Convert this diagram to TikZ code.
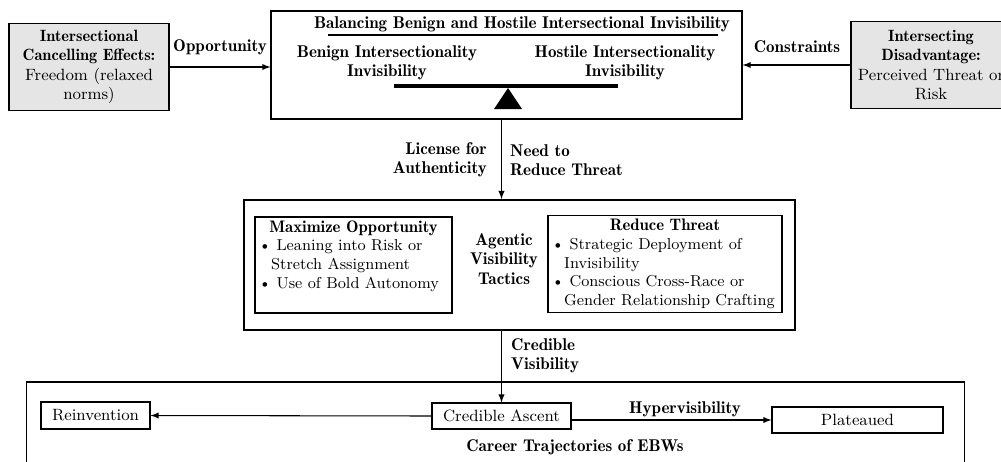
\documentclass[tikz,border=0pt]{standalone}
\usepackage{amsmath, amssymb}
\usepackage{xcolor}
\usepackage{tikz}

\newcommand{\demi}[1]{{\fontseries{b}\selectfont #1}}

\begin{document}
\begin{tikzpicture}[x=0.02cm, y=-0.02cm,
	font=\fontsize{9.3}{11}\selectfont,
	box/.style={draw, inner sep=0pt},
	greybox/.style={draw, semithick, fill=black!10, align=center, minimum width=3.2cm, minimum height=1.74cm},
	inbox/.style={draw, semithick, inner sep=2pt, font=\fontsize{9}{10.6}\selectfont},
	lbl/.style={font=\fontsize{9.7}{11}\fontseries{b}\selectfont},
	arr/.style={-latex, semithick}]

	\useasboundingbox (0,0) rectangle (1001,461);
	\clip (0,0) rectangle (1001,461);

	% Czynniki zewnętrzne
	\node[greybox] (cancel) at (89,67) {\demi{Intersectional}\\\demi{Cancelling Effects:}\\Freedom (relaxed\\norms)};
	\node[greybox] (disadv) at (931,65) {\demi{Intersecting}\\\demi{Disadvantage:}\\Perceived Threat or\\Risk};

	% Waga
	\node[box, line width=0.7pt, minimum width=9.42cm, minimum height=2.16cm] (balance) at (506.5,65) {};
	\node[lbl] (title) at (522,24) {Balancing Benign and Hostile Intersectional Invisibility};
	\draw[semithick] (328,35) -- (718,35);
	\node[lbl, align=center] (benign) at (387,63) {Benign Intersectionality\\Invisibility};
	\node[lbl, align=center] (hostile) at (625,63) {Hostile Intersectionality\\Invisibility};
	\draw[line width=2.2pt] (394,86) -- (618,86);
	\fill (508,88) -- (494,109) -- (522,109) -- cycle;

	% Strzałki do wagi
	\node[lbl] (opp) at (220,47) {Opportunity};
	\node[lbl] (constr) at (797,47) {Constraints};
	\draw[arr] (cancel) -- (cancel -| balance.west);
	\draw[arr] (disadv) -- (disadv -| balance.east);

	% Taktyki
	\node[box, line width=1.1pt, minimum width=11.02cm, minimum height=2.6cm] (tactics) at (519.5,265) {};
	\node[inbox] (maxopp) at (353.5,265) {\parbox[c][1.78cm][t]{3.8cm}{\centering\demi{\fontsize{9.5}{10.6}\selectfont Maximize Opportunity}\par\raggedright
		\textbullet~Leaning into Risk or\\\hspace*{0.8em}Stretch Assignment\\
		\textbullet~Use of Bold Autonomy}};
	\node[lbl, align=center] (agentic) at (504,259) {Agentic\\Visibility\\Tactics};
	\node[inbox] (reduce) at (665,264) {\parbox{4.54cm}{\centering\demi{\fontsize{9.5}{10.6}\selectfont Reduce Threat}\par\raggedright
		\textbullet~Strategic Deployment of\\\hspace*{0.8em}Invisibility\\
		\textbullet~Conscious Cross-Race or\\\hspace*{0.8em}Gender Relationship Crafting}};

	\node[lbl, align=right, anchor=east] (license) at (493,160) {License for\\Authenticity};
	\node[lbl, align=left, anchor=west] (need) at (504,160) {Need to\\Reduce Threat};

	% Ścieżki kariery
	\node[box, semithick, minimum width=18.78cm, minimum height=1.96cm] (careers) at (495.5,431) {};
	\node[box, semithick, minimum width=2.18cm, minimum height=0.54cm] (reinv) at (95.5,415.5) {Reinvention};
	\node[box, semithick, minimum width=2.78cm, minimum height=0.52cm] (ascent) at (501.5,416) {Credible Ascent};
	\node[box, semithick, minimum width=3.42cm, minimum height=0.52cm] (plateau) at (857.5,420) {Plateaued};
	\node[lbl] (career) at (575,447) {Career Trajectories of EBWs};
	\node[lbl] (hyper) at (685,409) {Hypervisibility};
	\node[lbl, align=left, anchor=west] (credvis) at (505,356) {Credible\\Visibility};

	% Strzałki pionowe i poziome
	\draw[arr] (balance.south -| ascent.north) -- (tactics.north -| ascent.north);
	\draw[arr] (tactics.south -| ascent.north) -- (ascent.north);
	\draw[arr] (ascent.west) -- (reinv.east);
	\draw[arr] (ascent.east |- plateau.west) -- (plateau.west);
\end{tikzpicture}
\end{document}
